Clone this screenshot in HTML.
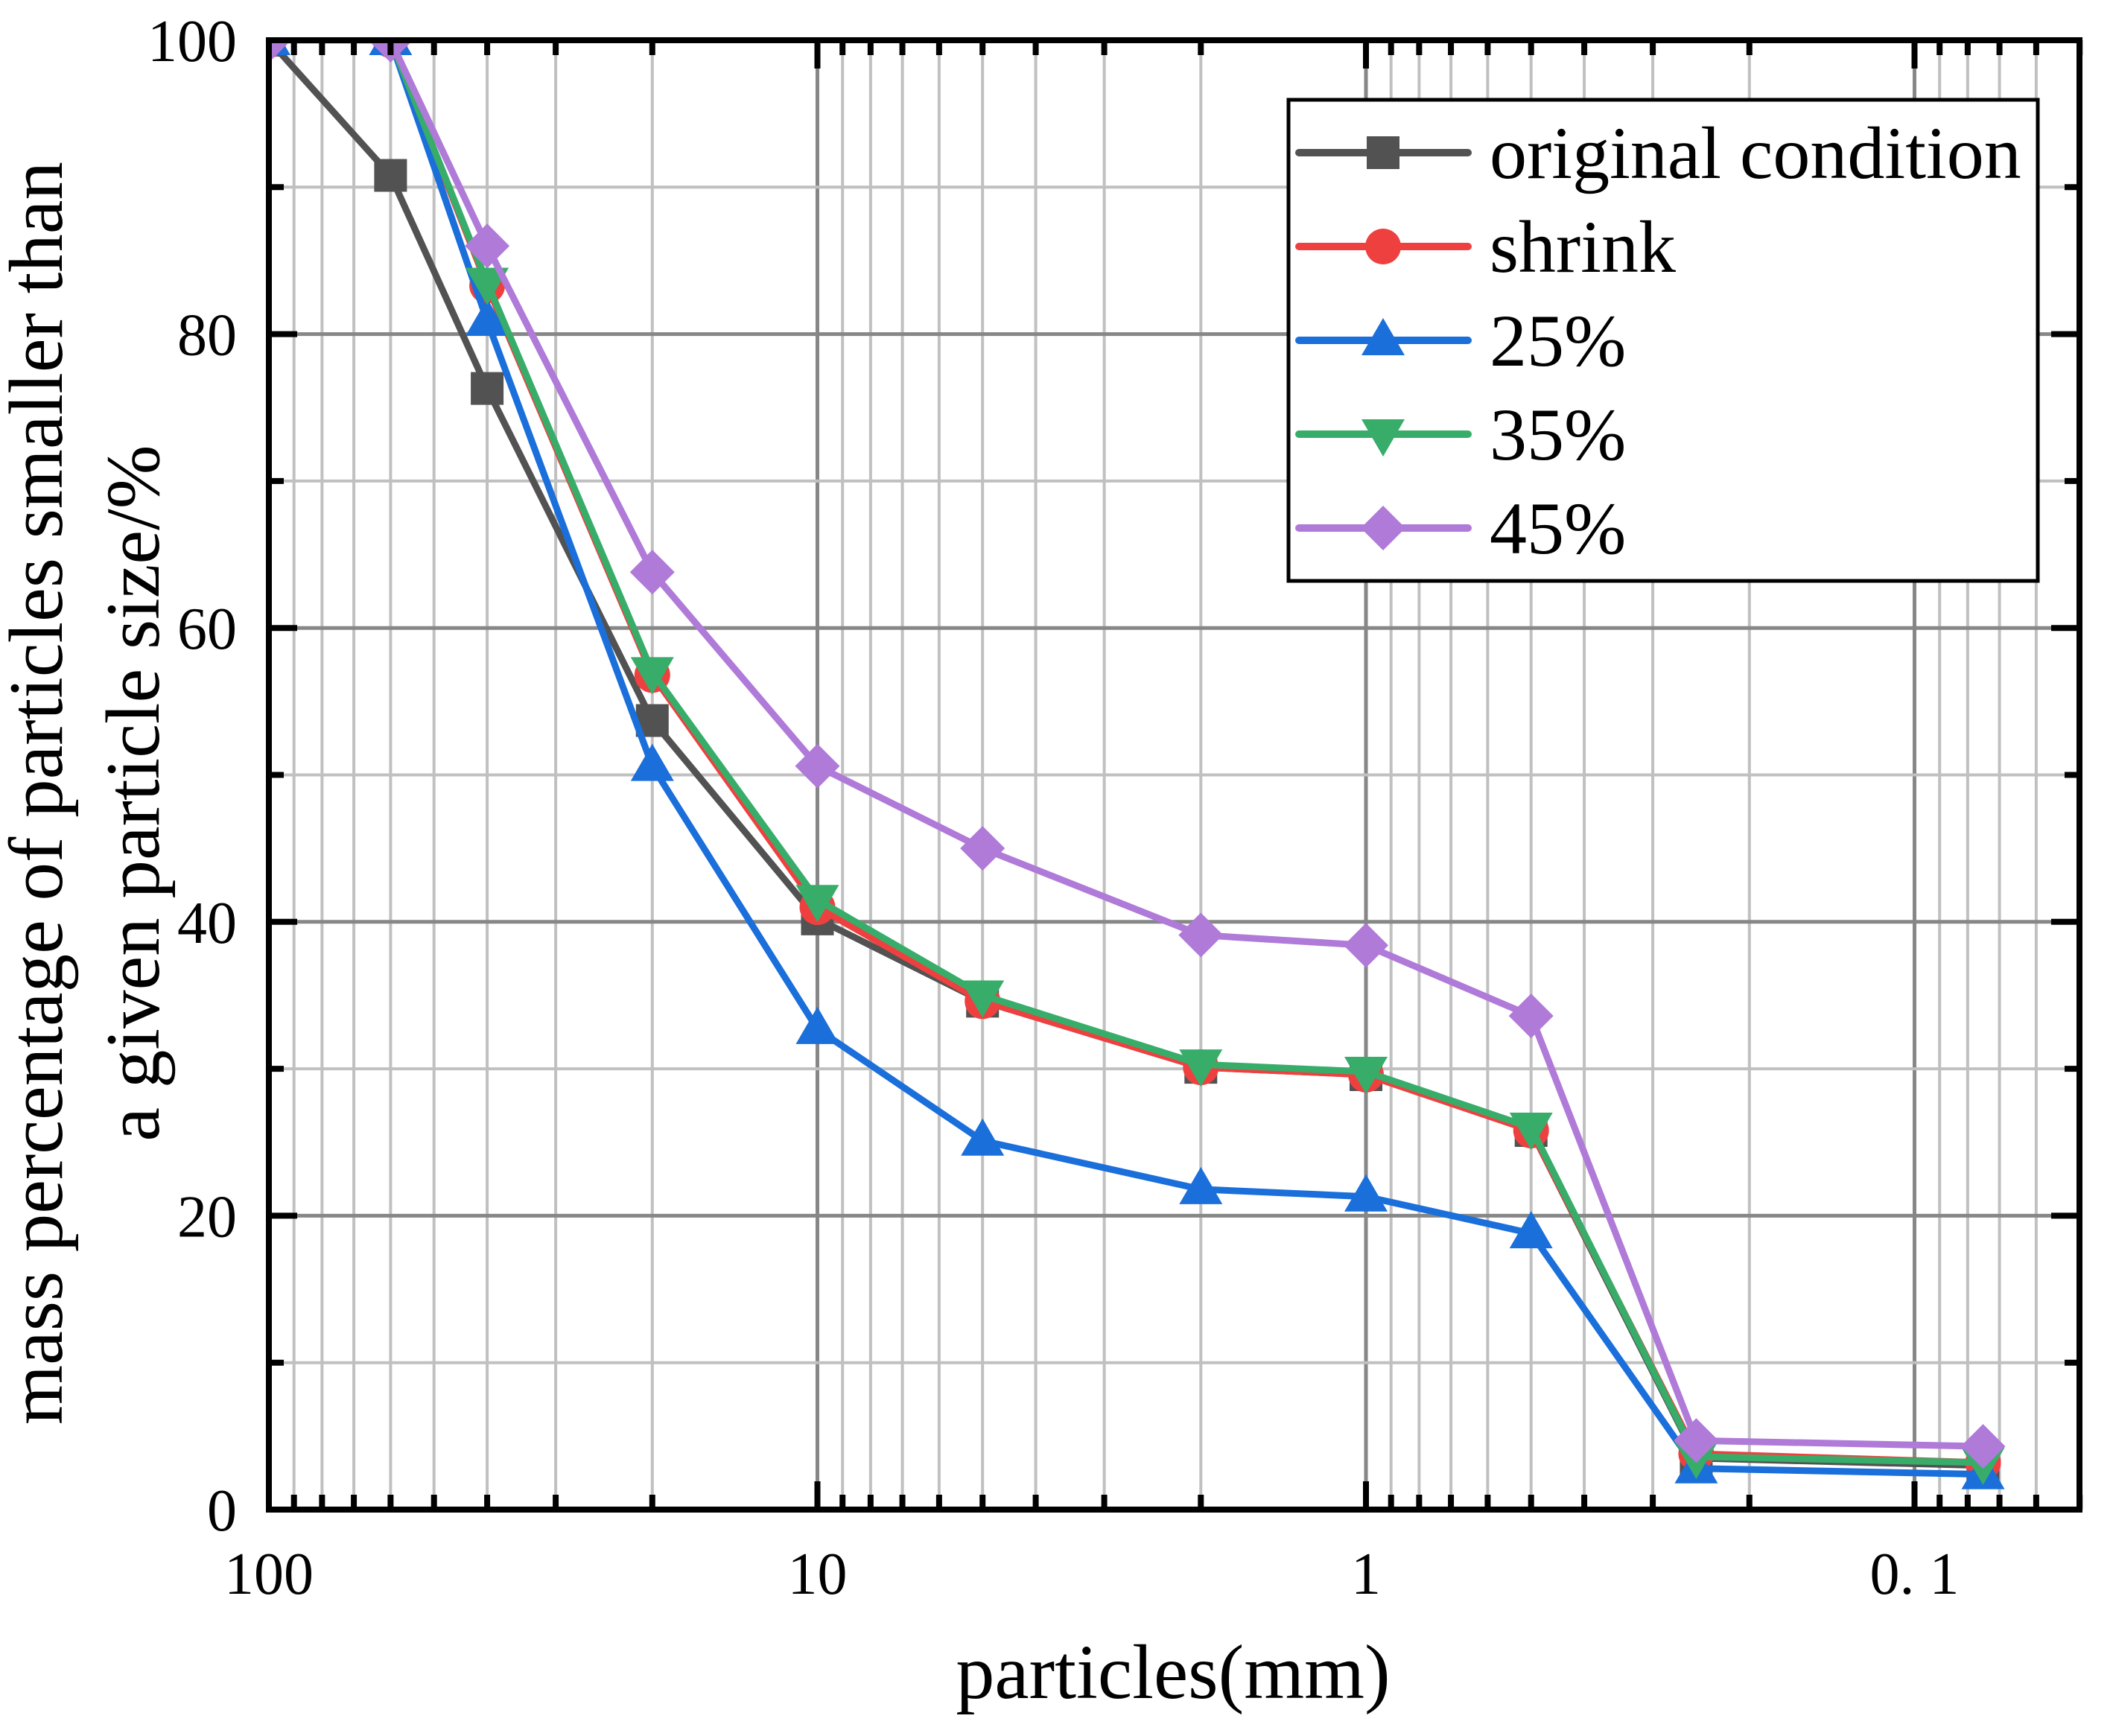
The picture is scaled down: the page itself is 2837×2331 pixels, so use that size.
<!DOCTYPE html>
<html><head><meta charset="utf-8"><style>
html,body{margin:0;padding:0;background:#fff}
svg{display:block}
text{font-family:"Liberation Serif","Noto Serif CJK SC",serif;fill:#000}
</style></head><body>
<svg id="chart" xmlns="http://www.w3.org/2000/svg" width="2837" height="2331" viewBox="0 0 2837 2331">
<defs><clipPath id="plotclip"><rect x="361" y="54" width="2431" height="1973"/></clipPath></defs>
<g id="grid"></g>
<g id="series" clip-path="url(#plotclip)"></g>
<g id="axes"></g>
<g id="legend"></g>
<text x="1575" y="2280" font-size="104" text-anchor="middle">particles(mm)</text>
<text transform="translate(83,1065) rotate(-90)" font-size="103" text-anchor="middle">mass percentage of particles smaller than</text>
<text transform="translate(213,1065) rotate(-90)" font-size="103" text-anchor="middle">a given particle size/%</text>
</svg>
<script>
const sizes = [100, 60, 40, 20, 10, 5, 2, 1, 0.5, 0.25, 0.075];
const seriesNames = ["original condition", "shrink", "25%", "35%", "45%"];
const originalVals = [100, 90.8, 76.3, 53.7, 40.2, 34.6, 30.1, 29.6, 25.8, 3.5, 3.0];
const shrinkVals = [100, 100, 83.3, 56.8, 41.0, 34.6, 30.1, 29.6, 25.8, 3.8, 3.2];
const p25Vals = [100, 100, 80.9, 50.6, 32.7, 25.1, 21.8, 21.3, 18.8, 2.8, 2.4];
const p35Vals = [100, 100, 83.5, 57.0, 41.5, 35.0, 30.3, 29.8, 26.0, 3.6, 3.2];
const p45Vals = [100, 100, 86.0, 63.8, 50.6, 45.0, 39.1, 38.4, 33.6, 4.7, 4.3];
const yTicks = [0, 20, 40, 60, 80, 100];
const yMinor = [10, 30, 50, 70, 90];
const xTicks = [100, 10, 1, 0.1];
const xTickLabels = ["100", "10", "1", "0. 1"];

const NS = "http://www.w3.org/2000/svg";
const L = 361, R = 2792, T = 54, B = 2027, DEC = 736.5;
function xs(v){ return L + (2 - Math.log10(v)) * DEC; }
function ys(v){ return B - v * (B - T) / 100; }
function mk(tag, attrs, parent){ const e = document.createElementNS(NS, tag); for (const k in attrs) e.setAttribute(k, attrs[k]); parent.appendChild(e); return e; }

const grid = document.getElementById('grid');
const axes = document.getElementById('axes');
const xMinorVals = [];
for (let d = -2; d <= 1; d++) for (let m = 1; m <= 9; m++) { const v = m * Math.pow(10, d); if (v > 101.7 || v < 0.05) continue; xMinorVals.push(v); }
xMinorVals.push(100);
xMinorVals.forEach(v => {
  const major = Math.abs(Math.log10(v) - Math.round(Math.log10(v))) < 1e-9;
  const x = xs(v);
  const ln = mk('line', {x1:x, x2:x, y1:T, y2:B, stroke: major ? '#878787' : '#c0c0c0', 'stroke-width': major ? 5 : 4}, grid);
  
  
  const len = major ? 38 : 20;
  const t1 = mk('line', {x1:x, x2:x, y1:B, y2:B - len, stroke:'#000', 'stroke-width':8}, axes);
  
  
  const t2 = mk('line', {x1:x, x2:x, y1:T, y2:T + len, stroke:'#000', 'stroke-width':8}, axes);
  
  
});
yTicks.concat(yMinor).forEach(v => {
  const major = yTicks.includes(v);
  const y = ys(v);
  const ln = mk('line', {x1:L, x2:R, y1:y, y2:y, stroke: major ? '#878787' : '#c0c0c0', 'stroke-width': major ? 5 : 4}, grid);
  
  
  const len = major ? 38 : 20;
  const t1 = mk('line', {x1:L, x2:L + len, y1:y, y2:y, stroke:'#000', 'stroke-width':8}, axes);
  
  
  const t2 = mk('line', {x1:R, x2:R - len, y1:y, y2:y, stroke:'#000', 'stroke-width':8}, axes);
  
  
});
const frame = mk('rect', {x:L, y:T, width:R - L, height:B - T, fill:'none', stroke:'#000', 'stroke-width':8}, axes);


yTicks.forEach(v => {
  const t = mk('text', {x:318, y:ys(v) + 28, 'font-size':80, 'text-anchor':'end'}, axes);
  t.textContent = String(v);
  
  
});
xTicks.forEach((v, i) => {
  const t = mk('text', {x:xs(v), y:2140, 'font-size':80, 'text-anchor':'middle'}, axes);
  t.textContent = xTickLabels[i];
  
  
});

const colors = ['#525252', '#ef4040', '#1a6fdb', '#38ad6a', '#b07ad8'];
const shapes = ['square', 'circle', 'up', 'down', 'diamond'];
const allVals = [originalVals, shrinkVals, p25Vals, p35Vals, p45Vals];
function marker(shape, x, y, c, parent){
  let e;
  if (shape === 'square') e = mk('rect', {x:x - 22, y:y - 22, width:44, height:44, fill:c}, parent);
  else if (shape === 'circle') e = mk('circle', {cx:x, cy:y, r:24, fill:c}, parent);
  else if (shape === 'up') e = mk('polygon', {points:`${x},${y - 30} ${x - 29},${y + 20} ${x + 29},${y + 20}`, fill:c}, parent);
  else if (shape === 'down') e = mk('polygon', {points:`${x},${y + 30} ${x - 29},${y - 20} ${x + 29},${y - 20}`, fill:c}, parent);
  else e = mk('polygon', {points:`${x},${y - 30} ${x + 30},${y} ${x},${y + 30} ${x - 30},${y}`, fill:c}, parent);
  return e;
}
const sg = document.getElementById('series');
allVals.forEach((vals, si) => {
  const g = mk('g', {}, sg);
  
  
  const pts = sizes.map((s, i) => xs(s) + ',' + ys(vals[i])).join(' ');
  const pl = mk('polyline', {points:pts, fill:'none', stroke:colors[si], 'stroke-width':9, 'stroke-linejoin':'round'}, g);
  
  
  sizes.forEach((s, i) => {
    const m = marker(shapes[si], xs(s), ys(vals[i]), colors[si], g);
    
    
  });
});

const lg = document.getElementById('legend');
const box = mk('rect', {x:1730, y:134, width:1006, height:646, fill:'#fff', stroke:'#000', 'stroke-width':5}, lg);


seriesNames.forEach((n, i) => {
  const y = 205 + i * 126;
  const g = mk('g', {}, lg);
  
  
  mk('line', {x1:1744, x2:1971, y1:y, y2:y, stroke:colors[i], 'stroke-width':10, 'stroke-linecap':'round'}, g);
  marker(shapes[i], 1857, y, colors[i], g);
  const t = mk('text', {x:2000, y:y + 34, 'font-size':100}, g);
  t.textContent = n;
  
  
});
</script>
</body></html>
